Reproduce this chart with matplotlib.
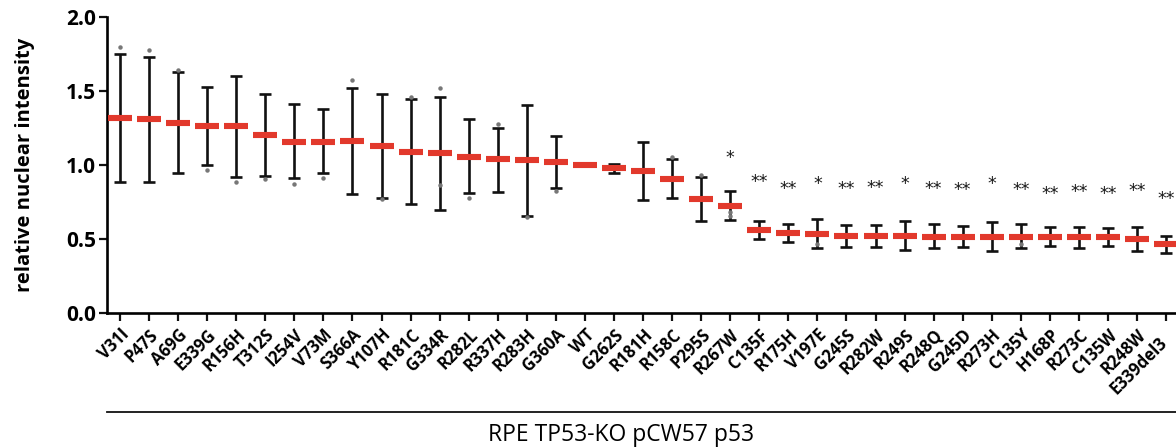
import matplotlib.pyplot as plt
from matplotlib.lines import Line2D

labels = ["V31I", "P47S", "A69G", "E339G", "R156H", "T312S", "I254V", "V73M",
          "S366A", "Y107H", "R181C", "G334R", "R282L", "R337H", "R283H", "G360A",
          "WT", "G262S", "R181H", "R158C", "P295S", "R267W", "C135F", "R175H",
          "V197E", "G245S", "R282W", "R249S", "R248Q", "G245D", "R273H", "C135Y",
          "H168P", "R273C", "C135W", "R248W", "E339del3"]

mean = [1.315, 1.31, 1.286, 1.264, 1.264, 1.203, 1.158, 1.158, 1.162, 1.128,
        1.09, 1.079, 1.057, 1.038, 1.034, 1.018, 1.0, 0.977, 0.959, 0.905,
        0.77, 0.725, 0.561, 0.543, 0.532, 0.52, 0.52, 0.52, 0.516, 0.516,
        0.516, 0.511, 0.511, 0.511, 0.511, 0.5, 0.466]
upper = [1.75, 1.73, 1.63, 1.53, 1.60, 1.48, 1.41, 1.376, 1.518, 1.48,
         1.448, 1.462, 1.31, 1.252, 1.405, 1.196, 1.0, 1.01, 1.157, 1.038,
         0.921, 0.826, 0.624, 0.601, 0.633, 0.595, 0.595, 0.622, 0.60, 0.588,
         0.617, 0.601, 0.579, 0.583, 0.572, 0.583, 0.522]
lower = [0.887, 0.887, 0.948, 1.0, 0.921, 0.926, 0.91, 0.944, 0.804, 0.779,
         0.739, 0.70, 0.809, 0.82, 0.657, 0.842, 1.0, 0.948, 0.764, 0.775,
         0.624, 0.628, 0.498, 0.482, 0.437, 0.448, 0.448, 0.426, 0.437, 0.444,
         0.419, 0.437, 0.453, 0.437, 0.453, 0.421, 0.403]

# single points outside / near the whiskers
dot_idx = [0, 1, 2, 3, 4, 5, 6, 7, 8, 9, 10, 11, 11, 12, 13, 14, 15, 19, 20, 21, 21, 24, 31]
dot_val = [1.80, 1.78, 1.64, 0.966, 0.887, 0.905, 0.872, 0.91, 1.574, 0.77,
           1.46, 1.518, 0.865, 0.775, 1.275, 0.65, 0.824, 1.056, 0.93, 0.684,
           0.655, 0.47, 0.47]

# significance marks
star_idx = list(range(21, 37))
star_txt = ["*", "**", "**", "*", "**", "**", "*", "**", "**", "*", "**", "**",
            "**", "**", "**", "**"]
star_y = [1.045, 0.887, 0.836, 0.87, 0.836, 0.842, 0.87, 0.836, 0.831, 0.87,
          0.831, 0.804, 0.815, 0.804, 0.824, 0.768]

x = list(range(len(labels)))
yerr = [[m - l for m, l in zip(mean, lower)], [u - m for u, m in zip(upper, mean)]]

fig = plt.figure(figsize=(11.76, 4.48), dpi=100)
ax = fig.add_axes([0.091, 0.301, 0.909, 0.661])

ax.errorbar(x, mean, yerr=yerr, fmt="none", ecolor="#111111", elinewidth=1.9,
            capsize=4.3, capthick=1.9, zorder=2)
ax.plot(dot_idx, dot_val, "o", color="#777777", markersize=2.2, zorder=3)
ax.plot(x, mean, "_", color="#e2392c", markersize=17.5, markeredgewidth=4.4, zorder=4)

for i, t, yy in zip(star_idx, star_txt, star_y):
    ax.text(i, yy, t, ha="center", va="center", fontsize=12.5, color="#1a1a1a",
            family="DejaVu Sans")

ax.set_xlim(-0.447, 36.34)
ax.set_ylim(0, 2.0)
ax.set_yticks([0, 0.5, 1.0, 1.5, 2.0])
ax.set_yticklabels(["0.0", "0.5", "1.0", "1.5", "2.0"], fontsize=15,
                   fontweight="bold", family="Open Sans")
ax.set_xticks(x)
# the last label sits at the picture edge, so it is drawn apart, slid down its own slope
ax.set_xticklabels(labels[:-1] + [""], rotation=45, ha="right", rotation_mode="anchor",
                   fontsize=12, fontweight="bold", family="Open Sans")
ax.annotate(labels[-1], xy=(x[-1], 0), xycoords=("data", "axes fraction"),
            xytext=(-6, -15), textcoords="offset points", rotation=45,
            rotation_mode="anchor", ha="right", va="top", fontsize=12,
            fontweight="bold", family="Open Sans", annotation_clip=False)
ax.set_ylabel("relative nuclear intensity", fontsize=14.5, fontweight="bold",
              family="Open Sans", labelpad=22)

for s in ["top", "right"]:
    ax.spines[s].set_visible(False)
for s in ["left", "bottom"]:
    ax.spines[s].set_linewidth(1.9)
ax.tick_params(axis="both", direction="out", width=1.6, length=6, color="#111111")
ax.tick_params(axis="x", pad=3)
ax.tick_params(axis="y", pad=2)

fig.add_artist(Line2D([0.091, 1.0], [0.081, 0.081], transform=fig.transFigure,
                      color="#111111", linewidth=1.3))
fig.text(0.528, 0.03, "RPE TP53-KO pCW57 p53", ha="center", va="center",
         fontsize=16.5, family="Open Sans")

fig.savefig("out.png", dpi=100)
